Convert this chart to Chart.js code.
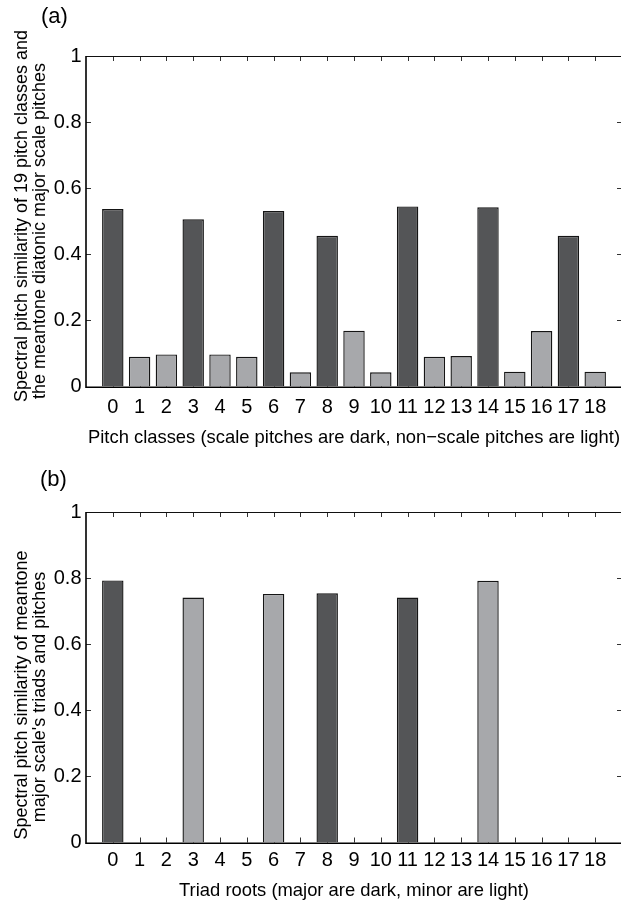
<!DOCTYPE html>
<html>
<head>
<meta charset="utf-8">
<script src="https://cdn.jsdelivr.net/npm/chart.js@4/dist/chart.umd.min.js"></script>
<style>
  html, body { margin: 0; padding: 0; background: #fff; width: 621px; height: 903px; overflow: hidden; }
  body { position: relative; }
  canvas { position: absolute; left: 0; }
  #ca { top: 0; }
  #cb { top: 450px; }
</style>
</head>
<body>
<canvas id="ca" width="640" height="450"></canvas>
<canvas id="cb" width="640" height="470"></canvas>
<script>
// ---- data ----
const pitchClasses = [0, 1, 2, 3, 4, 5, 6, 7, 8, 9, 10, 11, 12, 13, 14, 15, 16, 17, 18];
// spectral pitch similarity of each of the 19 pitch classes with the diatonic major scale
const pitchSimilarity = [0.537, 0.090, 0.097, 0.506, 0.097, 0.090, 0.531, 0.043, 0.456, 0.169,
                         0.043, 0.545, 0.090, 0.092, 0.542, 0.045, 0.168, 0.456, 0.045];
// 1 = scale pitch (dark), 0 = non-scale pitch (light)
const isScalePitch = [1, 0, 0, 1, 0, 0, 1, 0, 1, 0, 0, 1, 0, 0, 1, 0, 0, 1, 0];

const triadRoots = [0, 1, 2, 3, 4, 5, 6, 7, 8, 9, 10, 11, 12, 13, 14, 15, 16, 17, 18];
// spectral pitch similarity of the scale's triads with the scale pitches
const triadSimilarity = [0.793, 0, 0, 0.741, 0, 0, 0.752, 0, 0.754, 0,
                         0, 0.741, 0, 0, 0.792, 0, 0, 0, 0];
// 1 = major triad (dark), 0 = minor triad (light)
const isMajorTriad = [1, 0, 0, 0, 0, 0, 0, 0, 1, 0, 0, 1, 0, 0, 0, 0, 0, 0, 0];

const yTickValues = [0, 0.2, 0.4, 0.6, 0.8, 1];

// ---- styling ----
const DARK = '#545557';
const LIGHT = '#a7a8ab';
const FONT_FAMILY = '"Liberation Sans", Arial, Helvetica, sans-serif';
const tickFont = { family: FONT_FAMILY, size: 20 };
const titleFont = { family: FONT_FAMILY, size: 18.4 };

// Box frame with inward tick marks, rotated y-axis label and panel letter
function framePlugin(cfg) {
  return {
    id: 'frame',
    beforeDatasetsDraw(chart) {
      const { ctx, chartArea: a, scales } = chart;
      ctx.save();
      ctx.strokeStyle = '#333';
      ctx.lineWidth = 1;
      ctx.beginPath();
      // y ticks on the left and right sides, pointing inwards
      yTickValues.forEach(v => {
        const y = Math.round(scales.y.getPixelForValue(v)) + 0.5;
        ctx.moveTo(a.left, y); ctx.lineTo(a.left + 5, y);
        ctx.moveTo(a.right, y); ctx.lineTo(a.right - 5, y);
      });
      // x ticks at each category, bottom and top
      cfg.labels.forEach(c => {
        const x = Math.round(scales.x.getPixelForValue(c)) + 0.5;
        ctx.moveTo(x, a.bottom); ctx.lineTo(x, a.bottom - 5);
        ctx.moveTo(x, a.top); ctx.lineTo(x, a.top + 5);
      });
      ctx.stroke();
      ctx.restore();
    },
    afterDatasetsDraw(chart) {
      const { ctx, chartArea: a } = chart;
      ctx.save();
      ctx.strokeStyle = '#111';
      ctx.lineWidth = 1;
      ctx.beginPath();
      ctx.moveTo(a.left, a.top + 0.5); ctx.lineTo(a.right, a.top + 0.5);
      ctx.moveTo(a.right - 0.5, a.top); ctx.lineTo(a.right - 0.5, a.bottom);
      ctx.stroke();
      ctx.lineWidth = 1.6;
      ctx.strokeStyle = '#000';
      ctx.beginPath();
      ctx.moveTo(a.left, a.top); ctx.lineTo(a.left, a.bottom + 0.8);
      ctx.lineTo(a.right, a.bottom + 0.8);
      ctx.stroke();
      ctx.restore();
    },
    afterDraw(chart) {
      const { ctx } = chart;
      ctx.save();
      ctx.fillStyle = '#000';
      ctx.font = `18px ${FONT_FAMILY}`;
      ctx.textAlign = 'center';
      ctx.textBaseline = 'middle';
      cfg.yTitle.forEach((line, i) => {
        ctx.save();
        ctx.translate(cfg.yTitleX[i], cfg.yTitleY[i]);
        ctx.rotate(-Math.PI / 2);
        ctx.fillText(line, 0, 0);
        ctx.restore();
      });
      ctx.font = `22px ${FONT_FAMILY}`;
      ctx.textAlign = 'left';
      ctx.fillText(cfg.panel, cfg.panelX, cfg.panelY);
      ctx.restore();
    }
  };
}

function makeChart(canvasId, cfg) {
  return new Chart(document.getElementById(canvasId), {
    type: 'bar',
    data: {
      datasets: [{
        data: cfg.labels.map((c, i) => ({ x: c, y: cfg.values[i] })),
        backgroundColor: cfg.flags.map(f => (f ? DARK : LIGHT)),
        borderColor: '#151515',
        borderWidth: 1.4,
        borderSkipped: 'bottom',
        barPercentage: 0.8,
        categoryPercentage: 1
      }]
    },
    options: {
      responsive: false,
      animation: false,
      events: [],
      layout: { padding: { left: 0, top: cfg.top, right: 18, bottom: 0 } },
      plugins: { legend: { display: false }, tooltip: { enabled: false } },
      scales: {
        x: {
          type: 'linear',
          offset: false,
          min: -1,
          max: 19,
          afterBuildTicks: s => { s.ticks = cfg.labels.map(v => ({ value: v })); },
          afterFit: s => { s.height = cfg.xAxisHeight; },
          grid: { display: false, drawTicks: false },
          border: { display: false },
          ticks: {
            padding: cfg.tickPad, font: tickFont, color: '#000',
            autoSkip: false, maxRotation: 0, callback: v => String(v)
          },
          title: {
            display: true, text: cfg.xTitle, font: titleFont, color: '#000',
            padding: { top: 0, bottom: cfg.xTitlePad }
          }
        },
        y: {
          min: 0,
          max: 1,
          afterBuildTicks: s => { s.ticks = yTickValues.map(v => ({ value: v })); },
          afterFit: s => { s.width = 86; },
          grid: { display: false, drawTicks: false },
          border: { display: false },
          ticks: { padding: 4.5, font: tickFont, color: '#000', callback: v => String(v) }
        }
      }
    },
    plugins: [framePlugin(cfg)]
  });
}

makeChart('ca', {
  labels: pitchClasses,
  values: pitchSimilarity,
  flags: isScalePitch,
  top: 56,
  xAxisHeight: 63.5,
  tickPad: 8.5,
  xTitlePad: 1.5,
  xTitle: 'Pitch classes (scale pitches are dark, non\u2212scale pitches are light)',
  yTitle: ['Spectral pitch similarity of 19 pitch classes and', 'the meantone diatonic major scale pitches'],
  yTitleX: [22, 40],
  yTitleY: [216, 231],
  panel: '(a)',
  panelX: 41,
  panelY: 17
});

makeChart('cb', {
  labels: triadRoots,
  values: triadSimilarity,
  flags: isMajorTriad,
  top: 62,
  xAxisHeight: 77.5,
  tickPad: 6,
  xTitlePad: 18,
  xTitle: 'Triad roots (major are dark, minor are light)',
  yTitle: ['Spectral pitch similarity of meantone', "major scale's triads and pitches"],
  yTitleX: [22, 40],
  yTitleY: [245, 247],
  panel: '(b)',
  panelX: 40,
  panelY: 30
});
</script>
</body>
</html>
